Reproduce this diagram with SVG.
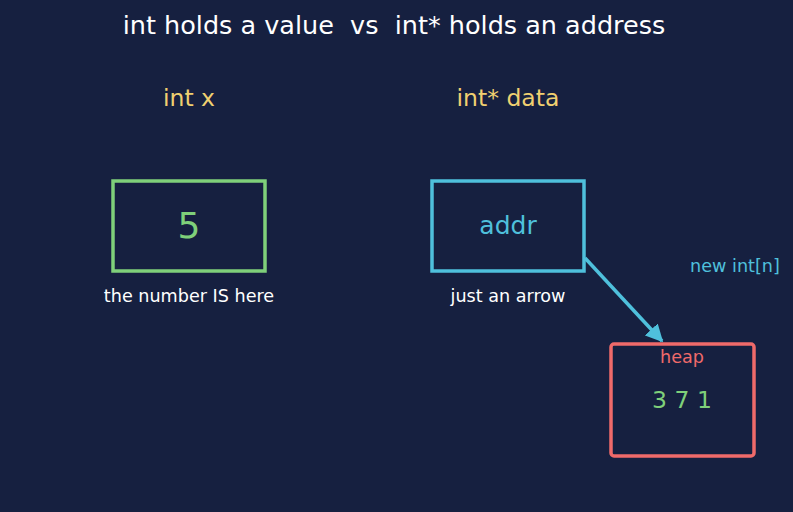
<svg xmlns="http://www.w3.org/2000/svg" width="793" height="512" viewBox="0 0 793 512">
<style>
text{font-family:"DejaVu Sans",sans-serif;text-anchor:middle;white-space:pre}
.t{fill:#ffffff;font-size:25.5px}
.lab{fill:#f0d070;font-size:23.5px}
.cap{fill:#ffffff;font-size:17.6px}
.box{fill:none;stroke-width:3.5}
</style>
<defs>
<marker id="ah" viewBox="0 0 10 10" refX="9" refY="5" markerWidth="5" markerHeight="5" orient="auto" markerUnits="strokeWidth">
<path d="M0,0 L10,5 L0,10 z" fill="#4fc0dc"/>
</marker>
</defs>
<rect width="793" height="512" fill="#162040"/>
<text class="t" x="394" y="34" xml:space="preserve">int holds a value  vs  int* holds an address</text>
<g id="intx">
<text class="lab" x="189" y="106">int x</text>
<rect class="box" x="113" y="181" width="152" height="90" stroke="#7fd07a"/>
<text x="189" y="238" fill="#7fd07a" font-size="36">5</text>
<text class="cap" x="189" y="302">the number IS here</text>
</g>
<g id="ptr">
<text class="lab" x="508" y="106">int* data</text>
<rect class="box" x="432" y="181" width="152" height="90" stroke="#4fc0dc"/>
<text x="508" y="234" fill="#4fc0dc" font-size="25">addr</text>
<text class="cap" x="508" y="302">just an arrow</text>
</g>
<g id="heap">
<rect class="box" x="611" y="344" width="143" height="112" rx="3" stroke="#f06a6a"/>
<text x="682" y="363" fill="#f06a6a" font-size="17.6">heap</text>
<text x="682" y="408" fill="#7fd07a" font-size="23.5">3 7 1</text>
</g>
<g id="connectors">
<line x1="585" y1="258" x2="662" y2="341" stroke="#4fc0dc" stroke-width="3.5" marker-end="url(#ah)"/>
<text x="735" y="272" fill="#4fc0dc" font-size="17.6">new int[n]</text>
</g>
</svg>
